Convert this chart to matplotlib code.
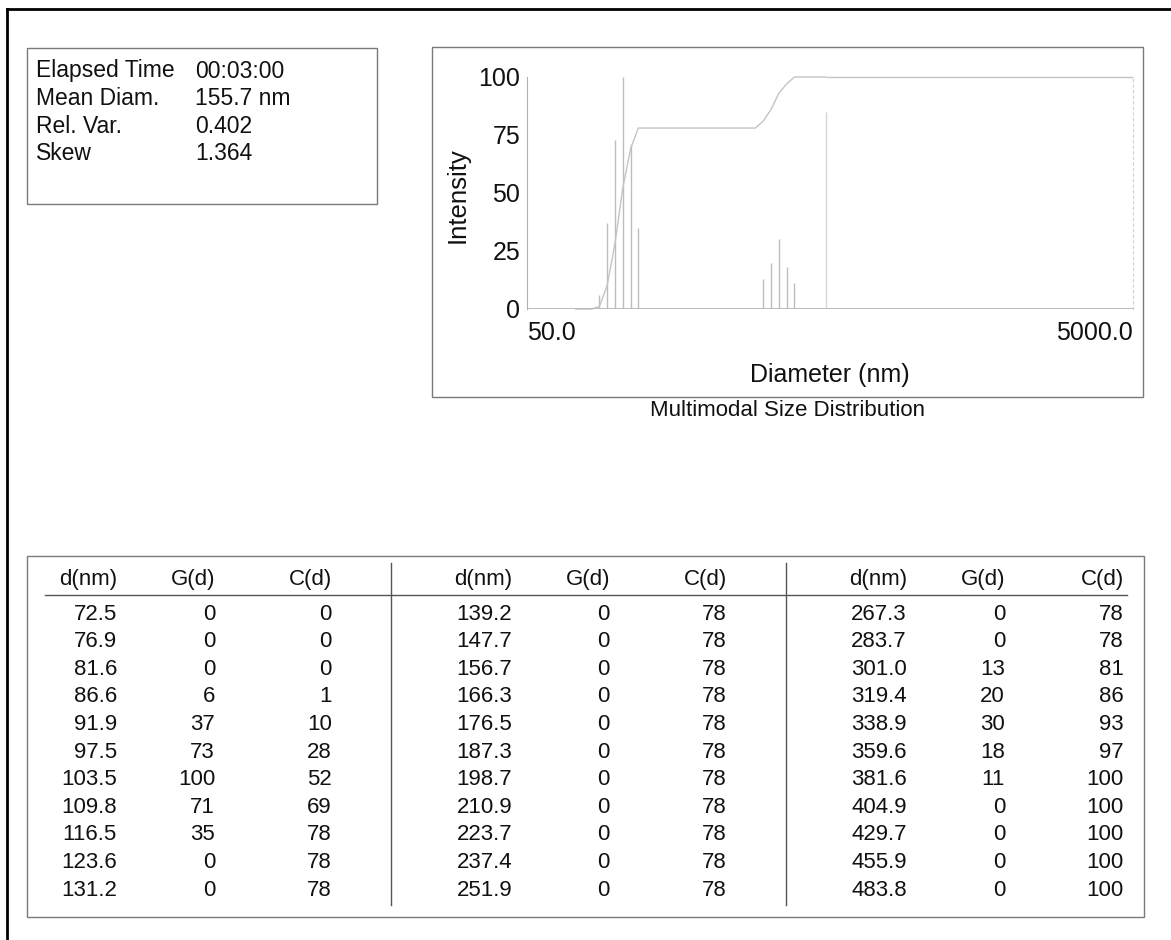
import matplotlib
matplotlib.use("Agg")
import matplotlib.pyplot as plt
from matplotlib.patches import Rectangle
from matplotlib.lines import Line2D

plt.rcParams['font.family'] = ['Liberation Sans', 'DejaVu Sans']
plt.rcParams['text.color'] = '#111111'

# 数据
info_labels = ['Elapsed Time', 'Mean Diam.', 'Rel. Var.', 'Skew']
info_values = ['00:03:00', '155.7 nm', '0.402', '1.364']

d_nm = [72.5, 76.9, 81.6, 86.6, 91.9, 97.5, 103.5, 109.8, 116.5, 123.6, 131.2,
        139.2, 147.7, 156.7, 166.3, 176.5, 187.3, 198.7, 210.9, 223.7, 237.4, 251.9,
        267.3, 283.7, 301.0, 319.4, 338.9, 359.6, 381.6, 404.9, 429.7, 455.9, 483.8]
G_d = [0, 0, 0, 6, 37, 73, 100, 71, 35, 0, 0,
       0, 0, 0, 0, 0, 0, 0, 0, 0, 0, 0,
       0, 0, 13, 20, 30, 18, 11, 0, 0, 0, 0]
C_d = [0, 0, 0, 1, 10, 28, 52, 69, 78, 78, 78,
       78, 78, 78, 78, 78, 78, 78, 78, 78, 78, 78,
       78, 78, 81, 86, 93, 97, 100, 100, 100, 100, 100]
col_headers = ['d(nm)', 'G(d)', 'C(d)']
x_range = [50, 5000]
y_ticks = [0, 25, 50, 75, 100]
marker_height = 85

W, H = 1171, 940
fig = plt.figure(figsize=(W / 100, H / 100), dpi=100)


def fx(px):
    return px / W


def fy(py):
    return 1 - py / H


def box(x0, y0, x1, y1, color='#7a7a7a', lw=1.0):
    fig.patches.append(Rectangle((fx(x0), fy(y1)), fx(x1) - fx(x0), fy(y0) - fy(y1),
                                 transform=fig.transFigure, fill=False,
                                 edgecolor=color, linewidth=lw))


def hline(x0, x1, y, color='#7a7a7a', lw=1.0):
    fig.lines.append(Line2D([fx(x0), fx(x1)], [fy(y), fy(y)], transform=fig.transFigure,
                            color=color, linewidth=lw))


def vline(x, y0, y1, color='#7a7a7a', lw=1.0):
    fig.lines.append(Line2D([fx(x), fx(x)], [fy(y0), fy(y1)], transform=fig.transFigure,
                            color=color, linewidth=lw))


# 外框 (扫描件只剩左边和上边)
hline(7, W, 9, color='black', lw=2.0)
vline(7, 9, H, color='black', lw=2.0)

# 左上角信息框
box(27, 48, 377, 204)
for i, (lab, val) in enumerate(zip(info_labels, info_values)):
    y = 71 + i * 27.6
    fig.text(fx(36), fy(y), lab, fontsize=16.5, ha='left', va='center')
    fig.text(fx(195), fy(y), val, fontsize=16.5, ha='left', va='center')

# 图的外框
box(432, 47, 1143, 397)

ax = fig.add_axes([fx(527), fy(309), fx(1133) - fx(527), fy(77) - fy(309)])
ax.set_xscale('log')
ax.vlines(d_nm, 0, G_d, colors='#bdbdbd', linewidth=1.0)
ax.plot(d_nm, C_d, color='#c4c4c4', linewidth=1.0, clip_on=False)
ax.hlines(C_d[-1], d_nm[-1], x_range[1], colors='#c4c4c4', linewidth=1.0, clip_on=False)
ax.vlines(d_nm[-1], 0, marker_height, colors='#d6d6d6', linewidth=1.0)
ax.axhline(0, color='#b5b5b5', linewidth=2.0)
ax.set_xlim(x_range)
ax.set_ylim(0, 100)
ax.set_yticks(y_ticks)
ax.set_xticks(x_range, ['50.0', '5000.0'])
ax.xaxis.set_minor_locator(matplotlib.ticker.NullLocator())
ax.tick_params(axis='both', length=0, labelsize=18, labelcolor='#111111')
ax.tick_params(axis='x', pad=9)
ax.tick_params(axis='y', pad=5)
xl = ax.get_xticklabels()
xl[0].set_ha('left')
xl[1].set_ha('right')
for s in ['top', 'bottom']:
    ax.spines[s].set_visible(False)
ax.spines['left'].set_color('#b0b0b0')
ax.spines['right'].set_color('#d0d0d0')
ax.spines['right'].set_linestyle((0, (2, 3)))
ax.patch.set_alpha(0)

fig.text(fx(458), fy(195), 'Intensity', fontsize=18.5, rotation=90, ha='center', va='center')
fig.text(fx(830), fy(375), 'Diameter (nm)', fontsize=18, ha='center', va='center')
fig.text(fx(787), fy(411), 'Multimodal Size Distribution', fontsize=16, ha='center', va='center')

# 下面的表格
box(27, 556, 1144, 917)
hline(45, 1127, 595, color='#555555', lw=1.0)
vline(391, 563, 905, color='#555555')
vline(786, 563, 905, color='#555555')

col_right = [[117, 215, 332], [512, 610, 727], [907, 1005, 1124]]
for b in range(3):
    for j, head in enumerate(col_headers):
        fig.text(fx(col_right[b][j]), fy(580), head, fontsize=16, ha='right', va='center')
    for i in range(11):
        k = b * 11 + i
        y = 614 + i * 27.6
        vals = ['%.1f' % d_nm[k], str(G_d[k]), str(C_d[k])]
        for j, v in enumerate(vals):
            fig.text(fx(col_right[b][j]), fy(y), v, fontsize=16, ha='right', va='center')

fig.savefig('out.png', dpi=100)
